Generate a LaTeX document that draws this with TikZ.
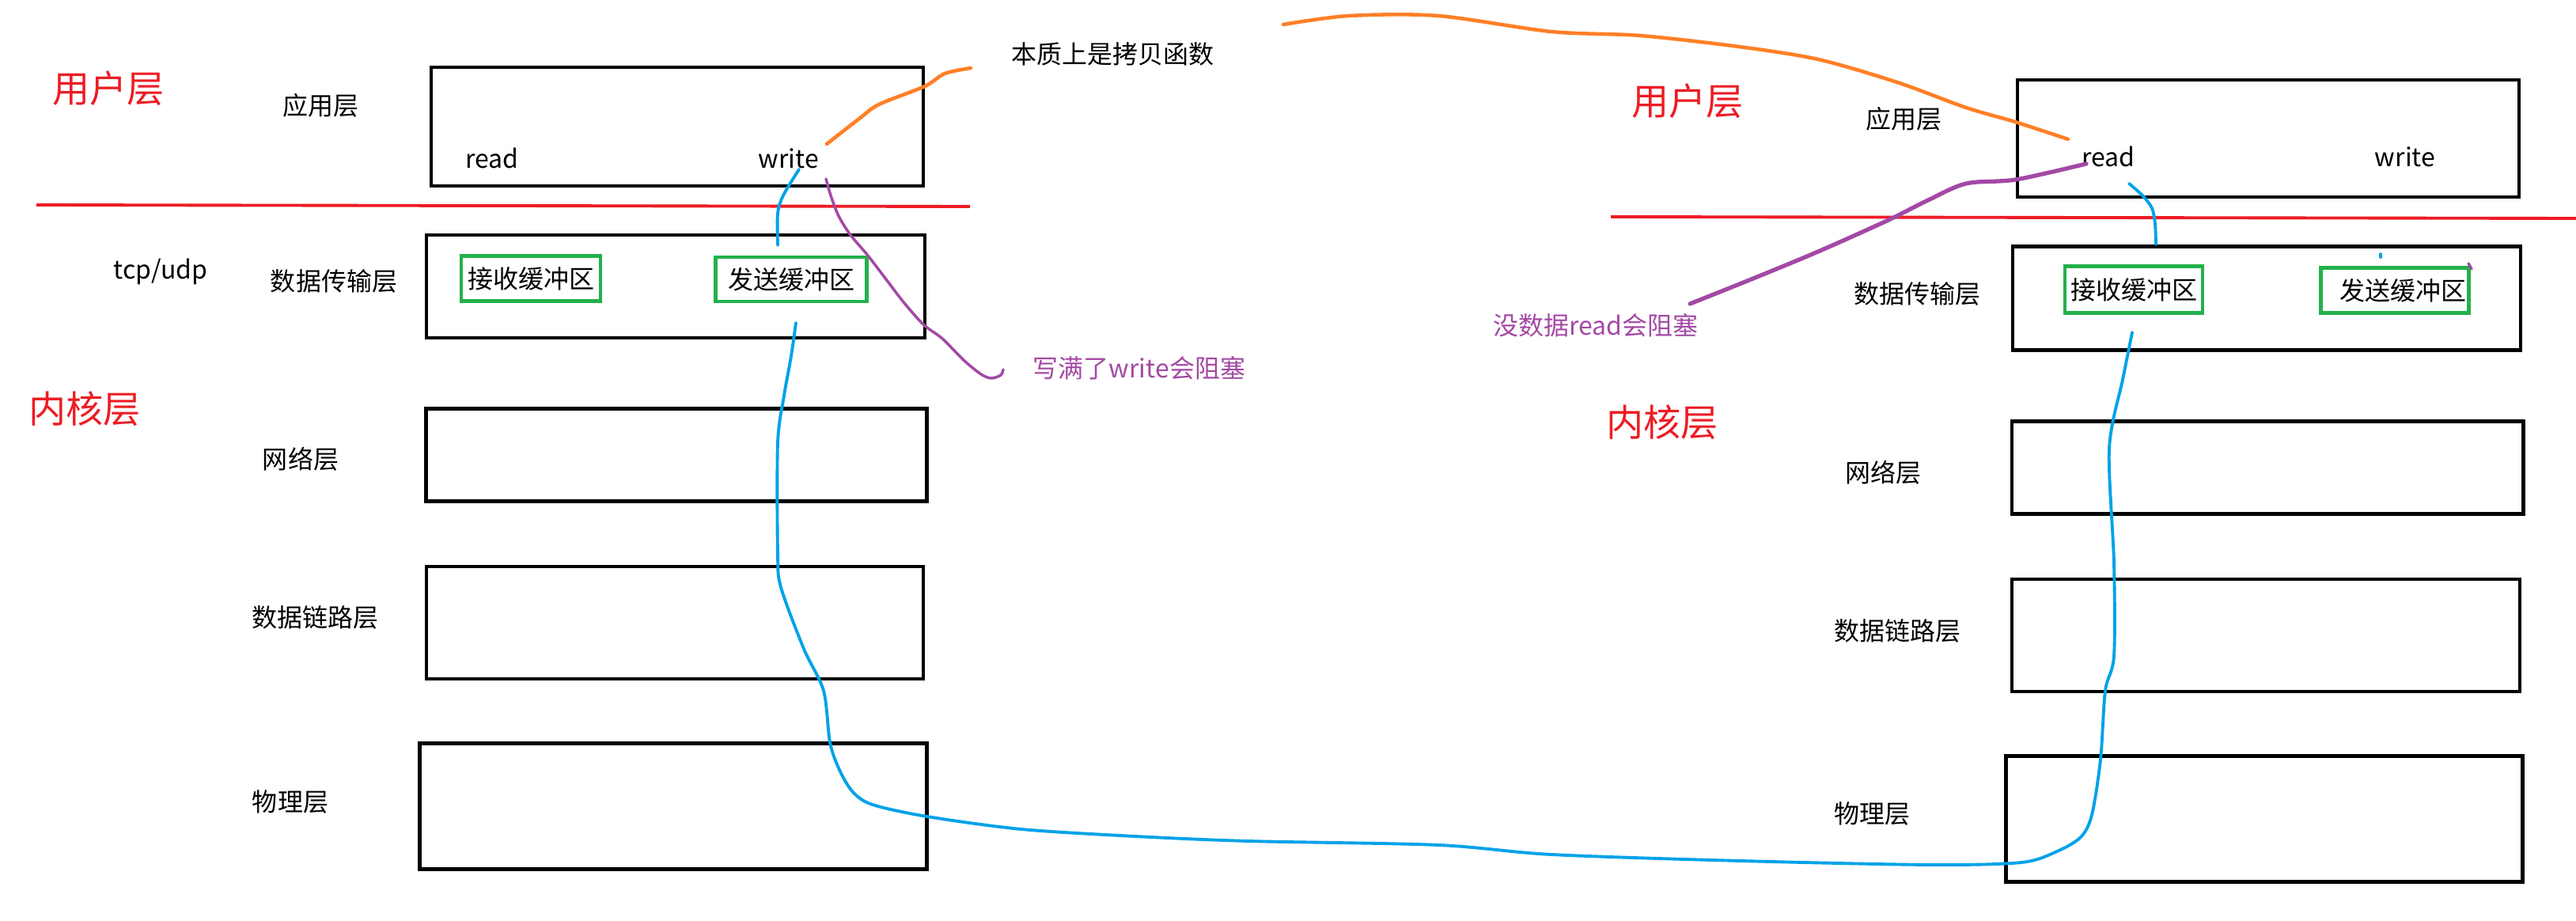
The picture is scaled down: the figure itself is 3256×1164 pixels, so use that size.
\documentclass[tikz,border=0pt]{standalone}
\usepackage{fontspec}
\setmainfont{Noto Sans CJK SC}
\usepackage{tikz}
\usetikzlibrary{positioning}
\definecolor{pred}{HTML}{ED1C24}
\definecolor{pgreen}{HTML}{22B14C}
\definecolor{pblue}{HTML}{00A2E8}
\definecolor{porange}{HTML}{FF7F27}
\definecolor{ppurple}{HTML}{A349A4}

\begin{document}
\begin{tikzpicture}[x=0.01cm, y=-0.01cm,
  layer/.style={draw, line width=1.3pt, inner sep=0pt},
  buf/.style={draw=pgreen, line width=1.2pt, inner sep=0pt, font=\fontsize{9.1}{10}\selectfont},
  lbl/.style={inner sep=0pt, font=\fontsize{9.1}{10}\selectfont},
  side/.style={inner sep=0pt, text=pred, font=\fontsize{13.4}{15}\selectfont},
  note/.style={inner sep=0pt, text=ppurple, font=\fontsize{9.1}{10}\selectfont},
  split/.style={pred, line width=1.1pt},
  wire/.style={pblue, line width=1.1pt, line cap=round, line join=round},
  copy/.style={porange, line width=1.3pt, line cap=round, line join=round},
  block/.style={ppurple, line width=1pt, line cap=round, line join=round}]
  \useasboundingbox (0,0) rectangle (3256,1164);

  % left host
  \node[side] (userL) at (137,112) {用户层};
  \node[side] (kernL) at (107,517) {内核层};
  \node[lbl] (appLblL) at (405,133) {应用层};
  \node[lbl] (tcpL) at (203,343) {tcp/udp};
  \node[lbl] (transLblL) at (422,355) {数据传输层};
  \node[lbl] (netLblL) at (380,580) {网络层};
  \node[lbl] (linkLblL) at (398,780) {数据链路层};
  \node[lbl] (physLblL) at (367,1013) {物理层};
  \node[layer, minimum width=6.22cm, minimum height=1.5cm] (appL) at (856,160) {};
  \node[layer, minimum width=6.3cm, minimum height=1.3cm] (transL) at (854,362) {};
  \node[layer, minimum width=6.33cm, minimum height=1.17cm] (netL) at (855,575) {};
  \node[layer, minimum width=6.28cm, minimum height=1.42cm] (linkL) at (853,787) {};
  \node[layer, minimum width=6.41cm, minimum height=1.59cm] (physL) at (851,1019) {};
  \node[lbl] (readL) at (622,200) {read};
  \node[lbl] (writeL) at (997,200) {write};
  \node[buf, minimum width=1.76cm, minimum height=0.57cm] (recvL) at (671,352) {接收缓冲区};
  \node[buf, minimum width=1.91cm, minimum height=0.56cm] (sendL) at (1000,353) {发送缓冲区};
  \coordinate (cutL1) at (46,259);
  \coordinate (cutL2) at (1226,261);
  \draw[split] (cutL1) -- (cutL2);

  % right host
  \node[side] (userR) at (2133,128) {用户层};
  \node[side] (kernR) at (2101,534) {内核层};
  \node[lbl] (appLblR) at (2406,150) {应用层};
  \node[lbl] (transLblR) at (2423,371) {数据传输层};
  \node[lbl] (netLblR) at (2380,597) {网络层};
  \node[lbl] (linkLblR) at (2398,797) {数据链路层};
  \node[lbl] (physLblR) at (2366,1028) {物理层};
  \node[layer, minimum width=6.34cm, minimum height=1.48cm] (appR) at (2867,175) {};
  \node[layer, minimum width=6.42cm, minimum height=1.31cm] (transR) at (2865,377) {};
  \node[layer, minimum width=6.46cm, minimum height=1.17cm] (netR) at (2866,591) {};
  \node[layer, minimum width=6.42cm, minimum height=1.42cm] (linkR) at (2864,803) {};
  \node[layer, minimum width=6.53cm, minimum height=1.59cm] (physR) at (2862,1035) {};
  \node[lbl] (readR) at (2665,198) {read};
  \node[lbl] (writeR) at (3040,198) {write};
  \node[buf, minimum width=1.74cm, minimum height=0.59cm] (recvR) at (2697,366) {接收缓冲区};
  \node[buf, minimum width=1.87cm, minimum height=0.57cm, text width=1.8cm, inner xsep=0.035cm, align=right] (sendR) at (3027,367) {发送缓冲区};
  \coordinate (cutR1) at (2036,274);
  \coordinate (cutR2) at (3256,276);
  \draw[split] (cutR1) -- (cutR2);

  % notes
  \node[lbl] (copyLbl) at (1406,68) {本质上是拷贝函数};
  \node[note] (fullLbl) at (1440,465) {写满了write会阻塞};
  \node[note] (emptyLbl) at (2017,411) {没数据read会阻塞};

  % copy: write -> read
  \coordinate (cpA) at (1045,182);
  \coordinate (cpB) at (1227,86);
  \coordinate (cpC) at (1622,31);
  \coordinate (cpD) at (2614,176);
  \draw[copy] plot[smooth] coordinates {(cpA) (1086,150) (1111,132) (1169,109) (1194,93) (cpB)};
  \draw[copy] plot[smooth] coordinates {(cpC) (1705,20) (1818,20) (1961,40) (2073,45) (2198,59)
    (2298,75) (2398,104) (2485,136) (2547,154) (cpD)};

  % data path
  \coordinate (dpA) at (1010,214);
  \coordinate (dpB) at (983,310);
  \coordinate (dpC) at (1006,408);
  \coordinate (dpD) at (2695,420);
  \coordinate (dpE) at (2725,309);
  \coordinate (dpF) at (2691,232);
  \draw[wire] plot[smooth] coordinates {(dpA) (990,247) (983,270) (dpB)};
  \draw[wire] plot[smooth, tension=0.5] coordinates {(dpC) (1000,450) (991,500) (983,560) (983,698)
    (987,742) (1016,820) (1041,873) (1049,938) (1061,973) (1078,1001) (1103,1017) (1172,1032)
    (1291,1048) (1435,1057) (1578,1063) (1818,1068) (1961,1080) (2200,1088) (2440,1093)
    (2555,1090) (2600,1076) (2630,1058) (2644,1030) (2655,960) (2661,873) (2672,829)
    (2672,711) (2666,567) (2683,480) (2689,450) (dpD)};
  \draw[wire] plot[smooth] coordinates {(dpE) (2724,283) (2720,263) (2708,247) (dpF)};

  % blocking
  \coordinate (bkA) at (1044,226);
  \coordinate (bkB) at (1268,467);
  \coordinate (bkC) at (2136,384);
  \coordinate (bkD) at (2637,207);
  \draw[block] plot[smooth] coordinates {(bkA) (1050,247) (1060,273) (1075,297) (1097,323)
    (1123,357) (1143,383) (1167,410) (1190,427) (1208,445) (1220,457) (1240,473) (1253,478)
    (1265,474) (bkB)};
  \draw[block, line width=1.5pt] plot[smooth] coordinates {(bkC) (2211,354) (2298,318) (2385,279)
    (2435,254) (2485,232) (2548,227) (bkD)};

  % stray marks
  \draw[wire] (3009,321) -- (3009,325);
  \draw[block] (3120,333) -- (3124,340);
\end{tikzpicture}
\end{document}
